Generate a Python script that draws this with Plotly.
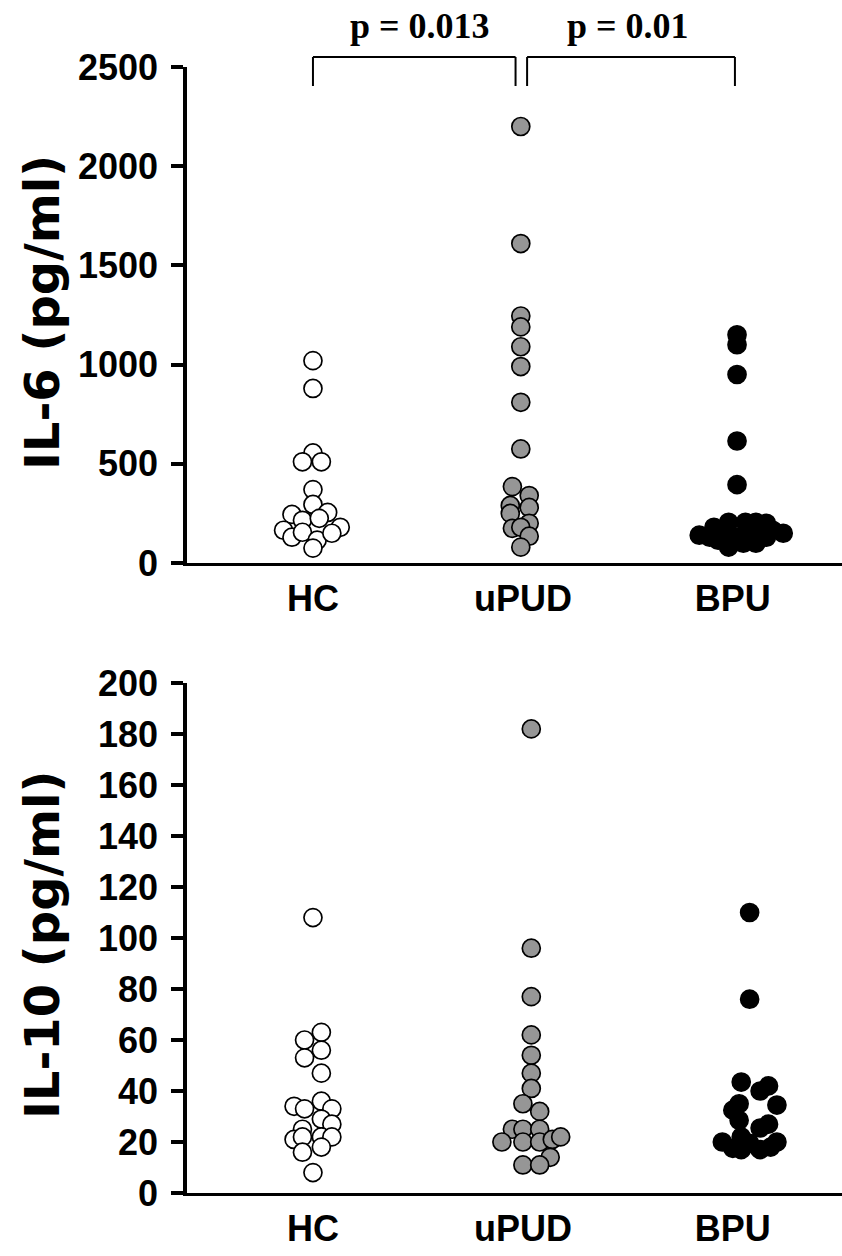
import plotly.graph_objects as go

# ---------------- data ----------------
categories = ["HC", "uPUD", "BPU"]

# IL-6 (pg/ml)
il6_hc = [1020, 880, 555, 510, 510, 370, 295, 245, 255, 215, 225, 165, 180, 130, 155, 115, 150, 75]
il6_hc_jit = [0, 0, 0, -0.05, 0.04, 0, 0, -0.10, 0.07, -0.05, 0.03, -0.14, 0.13, -0.10, -0.05, 0.02, 0.09, 0]
il6_upud = [2200, 1610, 1245, 1190, 1090, 990, 810, 575, 385, 340, 290, 250, 280, 200, 175, 180, 135, 80]
il6_upud_jit = [-0.01, -0.01, -0.01, -0.01, -0.01, -0.01, -0.01, -0.01, -0.05, 0.03, -0.06, -0.06, 0.03, 0.03, -0.05, -0.01, 0.03, -0.01]
il6_bpu = [1150, 1100, 950, 615, 395, 140, 150, 180, 205, 205, 205, 200, 115, 80, 100, 100, 130, 130, 130, 150, 150, 165]
il6_bpu_jit = [0.02, 0.02, 0.02, 0.02, 0.02, -0.16, 0.24, -0.09, -0.02, 0.06, 0.11, 0.16, -0.07, -0.02, 0.05, 0.11, 0.16, -0.11, 0.02, 0.08, -0.03, 0.19]

# IL-10 (pg/ml)
il10_hc = [108, 63, 60, 56, 53, 47, 36, 34, 33, 33, 29, 27, 25, 21, 22, 22, 22, 18, 16, 8]
il10_hc_jit = [0, 0.04, -0.04, 0.04, -0.04, 0.04, 0.04, -0.09, -0.04, 0.09, 0.04, 0.09, -0.05, -0.09, -0.05, 0.04, 0.09, 0.04, -0.05, 0]
il10_upud = [182, 96, 77, 62, 54, 47, 41, 35, 32, 25, 25, 25, 20, 20, 20, 21, 22, 14, 11, 11]
il10_upud_jit = [0.04, 0.04, 0.04, 0.04, 0.04, 0.04, 0.04, 0, 0.08, -0.05, 0, 0.08, -0.10, 0, 0.08, 0.14, 0.18, 0.13, 0, 0.08]
il10_bpu = [110, 76, 43.5, 42, 40, 35, 34.5, 32.5, 27, 28.5, 25.5, 20, 20, 17.5, 17, 17, 18, 19.5, 22]
il10_bpu_jit = [0.08, 0.08, 0.04, 0.17, 0.13, 0.03, 0.21, 0, 0.17, 0.03, 0.13, -0.05, 0.21, 0, 0.04, 0.13, 0.18, 0.08, 0.04]

il6_ticks = [0, 500, 1000, 1500, 2000, 2500]
il10_ticks = [0, 20, 40, 60, 80, 100, 120, 140, 160, 180, 200]

p_labels = ["p = 0.013", "p = 0.01"]

colors = ["#ffffff", "#969696", "#000000"]

# ---------------- figure ----------------
W, H = 842.0, 1256.0
L = 187.0
fig = go.Figure()

def add_group(vals, jit, pos, color, xa, ya):
    fig.add_trace(go.Scatter(
        x=[pos + j for j in jit], y=vals, mode="markers",
        xaxis=xa, yaxis=ya, cliponaxis=False, showlegend=False,
        marker=dict(size=18, color=color, line=dict(color="black", width=1.7)),
    ))

for i, (v, j) in enumerate([(il6_hc, il6_hc_jit), (il6_upud, il6_upud_jit), (il6_bpu, il6_bpu_jit)]):
    add_group(v, j, i + 1, colors[i], "x", "y")
for i, (v, j) in enumerate([(il10_hc, il10_hc_jit), (il10_upud, il10_upud_jit), (il10_bpu, il10_bpu_jit)]):
    add_group(v, j, i + 1, colors[i], "x2", "y2")

tickfont = dict(family="Liberation Sans", size=36, color="black", weight="bold")

xcommon = dict(range=[0.4, 3.52], tickvals=[1, 2, 3], ticktext=categories,
               showline=True, linecolor="black", linewidth=2.5, ticks="",
               showgrid=False, zeroline=False, tickfont=tickfont,
               ticklabelstandoff=2, automargin=False, fixedrange=True)
ycommon = dict(showline=True, linecolor="black", linewidth=3.5, ticks="outside",
               ticklen=12, tickwidth=3.5, tickcolor="black", showgrid=False,
               zeroline=False, tickfont=tickfont, ticklabelstandoff=6,
               automargin=False, fixedrange=True)

top_dom = [1 - 563 / H, 1 - 67 / H]
bot_dom = [1 - 1193 / H, 1 - 683 / H]

fig.update_layout(
    width=842, height=1256, margin=dict(l=L, r=0, t=0, b=0, pad=0, autoexpand=False),
    paper_bgcolor="white", plot_bgcolor="white",
    xaxis=dict(domain=[0, 1], anchor="y", **xcommon),
    yaxis=dict(domain=top_dom, anchor="x", range=[0, 2500],
               tickvals=il6_ticks, **ycommon),
    xaxis2=dict(domain=[0, 1], anchor="y2", **xcommon),
    yaxis2=dict(domain=bot_dom, anchor="x2", range=[0, 200],
                tickvals=il10_ticks, **ycommon),
)

def py(pix):
    return 1 - pix / H

# significance brackets (top panel)
bracket_top, bracket_bottom = py(57), py(86)
for (xa, xb) in [(1.0, 1.965), (2.02, 3.01)]:
    for x0, y0, x1, y1 in [(xa, bracket_bottom, xa, bracket_top),
                           (xa, bracket_top, xb, bracket_top),
                           (xb, bracket_top, xb, bracket_bottom)]:
        fig.add_shape(type="line", xref="x", yref="paper", x0=x0, y0=y0, x1=x1, y1=y1,
                      line=dict(color="black", width=2))

for txt, xc in zip(p_labels, [1.51, 2.5]):
    fig.add_annotation(text=txt, xref="x", yref="paper", x=xc, y=py(26), showarrow=False,
                       xanchor="center", yanchor="middle",
                       font=dict(family="Liberation Serif", size=36, color="black", weight="bold"))

# y-axis titles
title_font = dict(family="DejaVu Sans", size=48, color="black", weight="bold")
tx = (42 - L) / (W - L)
fig.add_annotation(text="IL-6 (pg/ml)", xref="paper", yref="paper", x=tx, y=py(313),
                   xanchor="center", yanchor="middle",
                   textangle=-90, showarrow=False, font=title_font)
fig.add_annotation(text="IL-10 (pg/ml)", xref="paper", yref="paper", x=tx, y=py(945),
                   xanchor="center", yanchor="middle",
                   textangle=-90, showarrow=False, font=title_font)

fig.write_html("out.html")
